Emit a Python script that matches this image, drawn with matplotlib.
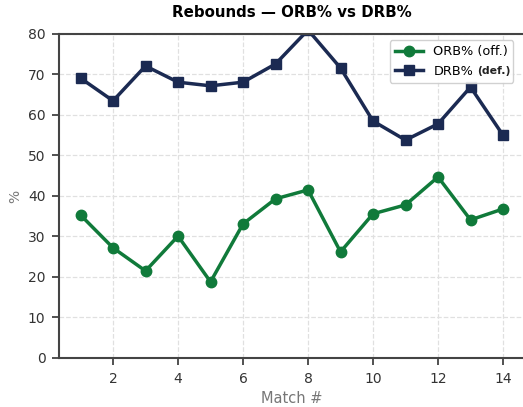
import numpy as np
import matplotlib
matplotlib.use("Agg")
import matplotlib.pyplot as plt

# match-by-match rebound percentages
matches = list(range(1, 15))
orb_pct = [35.3, 27.2, 21.5, 30.1, 18.8, 33.1, 39.3, 41.5, 26.2, 35.6, 37.8, 44.7, 34.1, 36.8]
drb_pct = [69.1, 63.5, 72.1, 68.1, 67.2, 68.1, 72.6, 81.0, 71.6, 58.5, 53.8, 57.8, 66.9, 55.0]

green = "#107a3a"
navy = "#1b2a52"

fig = plt.figure(figsize=(5.23, 4.07), dpi=100)
ax = fig.add_axes([0.1136, 0.1204, 0.8886, 0.7961])

ax.plot(matches, orb_pct, color=green, lw=2.5, marker="o", ms=7.5, label="ORB% (off.)")
ax.plot(matches, drb_pct, color=navy, lw=2.5, marker="s", ms=7.5, label="DRB%")

ax.set_ylim(0, 80)
ax.set_xticks(range(2, 15, 2))
ax.set_yticks(range(0, 81, 10))
ax.grid(True, linestyle="--", color="#e0e0e0", lw=0.9)
ax.set_axisbelow(True)

for s in ax.spines.values():
    s.set_color("#444444")
    s.set_linewidth(1.5)
ax.spines["right"].set_visible(False)
ax.tick_params(colors="#333333", labelsize=10, width=1.2, length=5, pad=5)

ax.set_title("Rebounds — ORB% vs DRB%", fontsize=10.8, fontweight="bold", pad=12)
ax.set_xlabel("Match #", color="#777777", fontsize=10.5, labelpad=3.5)
ax.set_ylabel("%", color="#777777", fontsize=10)
leg = ax.legend(loc="upper right", bbox_to_anchor=(0.977, 0.9815), borderaxespad=0,
                fontsize=9.3, framealpha=0.9, handlelength=2.2)

# smaller bold tag after the DRB% label
drb_text = leg.get_texts()[1]
ax.annotate("(def.)", xy=(1, 0.5), xycoords=drb_text, xytext=(4, 0),
            textcoords="offset pixels", fontsize=7.8, fontweight="bold",
            va="center", ha="left", color="#222222", zorder=10)

fig.savefig("out.png", dpi=100)
